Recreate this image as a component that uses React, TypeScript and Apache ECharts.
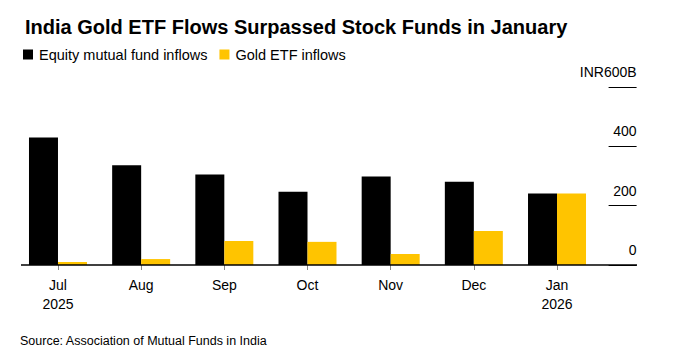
import React, { useEffect, useRef } from "react";
import * as echarts from "echarts";

const months = ["Jul", "Aug", "Sep", "Oct", "Nov", "Dec", "Jan"];
const years = ["2025", "", "", "", "", "", "2026"];
const equityInflows = [430, 336, 305, 247, 298, 281, 241];
const goldEtfInflows = [10, 20, 81, 78, 37, 115, 241];
const yTicks = { min: 0, max: 600, interval: 200 };

const FONT = "Liberation Sans, Arial, sans-serif";

export default function App() {
  const ref = useRef<HTMLDivElement>(null);
  useEffect(() => {
    if (!ref.current) return;
    const chart = echarts.init(ref.current, undefined, { renderer: "svg" });
    const categories = months.map((m, i) => (years[i] ? `${m}\n${years[i]}` : m));
    chart.setOption({
      animation: false,
      textStyle: { fontFamily: FONT },
      title: {
        text: "India Gold ETF Flows Surpassed Stock Funds in January",
        left: 20,
        top: 12,
        textStyle: { fontSize: 20, fontWeight: "bold", color: "#000", fontFamily: FONT },
      },
      legend: {
        left: 18,
        top: 42,
        padding: 5,
        icon: "rect",
        itemWidth: 10,
        itemHeight: 10,
        itemGap: 12,
        textStyle: { fontSize: 14.5, color: "#000", fontFamily: FONT, padding: [0, 0, 0, 1] },
        data: ["Equity mutual fund inflows", "Gold ETF inflows"],
      },
      grid: { left: 16.4, right: 79.4, top: 87, bottom: 97, containLabel: false },
      xAxis: {
        type: "category",
        data: categories,
        axisLine: { show: false },
        axisTick: { show: true, alignWithLabel: true, length: 5, lineStyle: { color: "#888", width: 1 } },
        axisLabel: { fontSize: 14, color: "#000", lineHeight: 19, margin: 10, fontFamily: FONT },
      },
      yAxis: {
        type: "value",
        position: "right",
        offset: 10,
        min: yTicks.min,
        max: yTicks.max,
        interval: yTicks.interval,
        splitLine: { show: false },
        axisLine: { show: false },
        axisTick: { show: true, length: 28, lineStyle: { color: "#000", width: 1 } },
        axisLabel: {
          align: "right",
          margin: 28,
          verticalAlign: "bottom",
          padding: [0, 0, 8, 0],
          fontSize: 14,
          color: "#000",
          fontFamily: FONT,
          formatter: (v: number) => (v === yTicks.max ? `INR${v}B` : `${v}`),
        },
      },
      series: [
        {
          name: "Equity mutual fund inflows",
          type: "bar",
          data: equityInflows,
          barWidth: 29,
          barGap: "0%",
          itemStyle: { color: "#000000" },
        },
        {
          name: "Gold ETF inflows",
          type: "bar",
          data: goldEtfInflows,
          barWidth: 29,
          barGap: "0%",
          itemStyle: { color: "#FFC400" },
        },
      ],
      graphic: [
        {
          type: "line",
          shape: { x1: 21, y1: 265, x2: 637, y2: 265 },
          style: { stroke: "#000", lineWidth: 1.5 },
          z: 100,
        },
        {
          type: "text",
          left: 20,
          top: 334,
          style: {
            text: "Source: Association of Mutual Funds in India",
            fontSize: 12.5,
            fill: "#000",
            fontFamily: FONT,
          },
        },
      ],
    });
    return () => chart.dispose();
  }, []);
  return (
    <div
      ref={ref}
      style={{ position: "fixed", left: 0, top: 0, width: 678, height: 362, background: "#fff" }}
    />
  );
}
